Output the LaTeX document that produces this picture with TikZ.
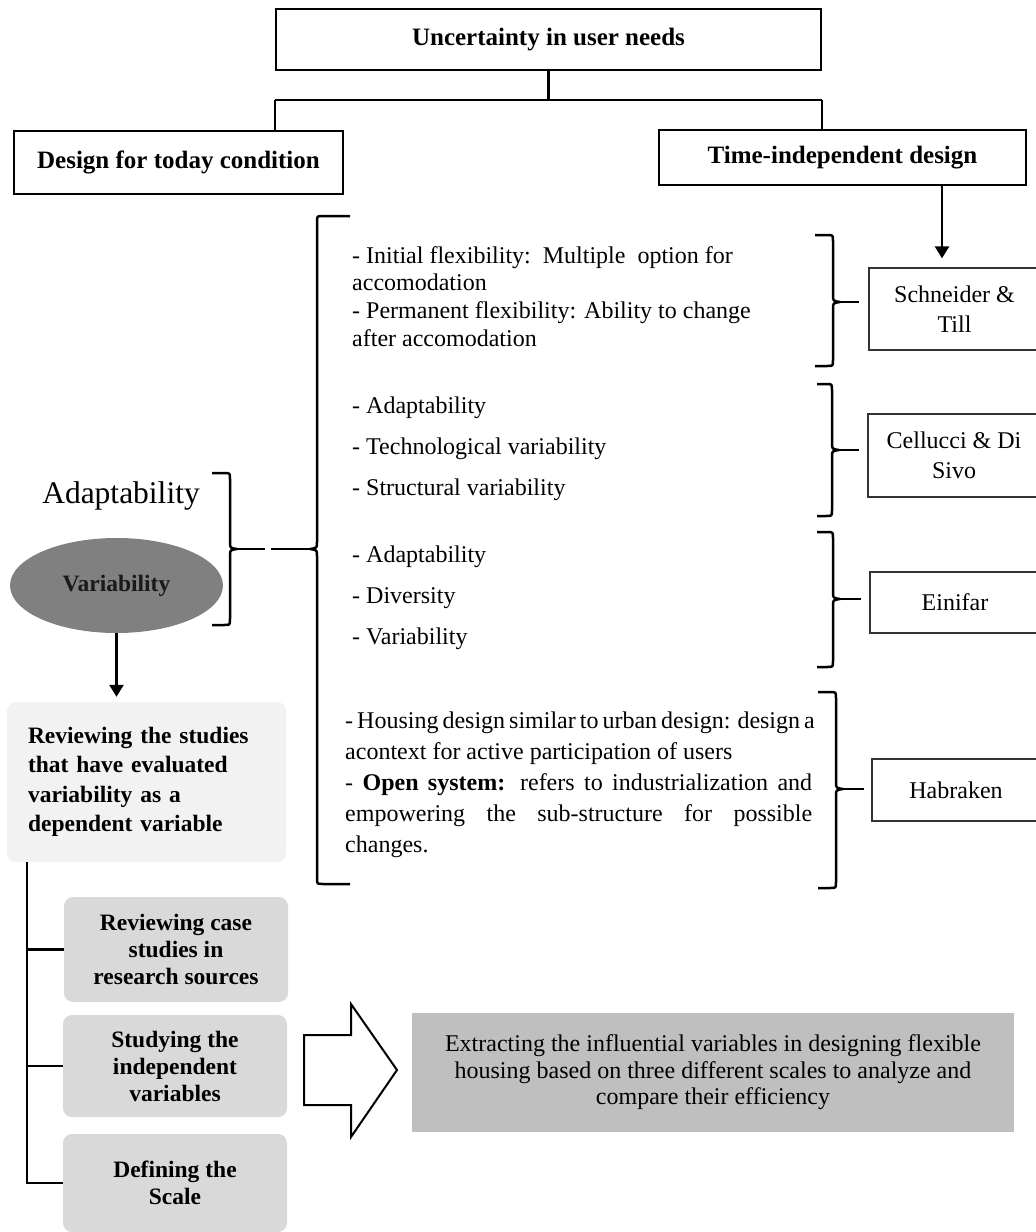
\documentclass[tikz,border=0pt]{standalone}
\usepackage{fontspec}
\setmainfont{Liberation Serif}
\usepackage{xcolor}
\usepackage{tikz}
\usetikzlibrary{arrows.meta, shapes.geometric, positioning}
\definecolor{lightpanel}{HTML}{F2F2F2}
\definecolor{midpanel}{HTML}{D9D9D9}
\definecolor{darkpanel}{HTML}{BFBFBF}
\definecolor{ovalgray}{HTML}{808080}

\begin{document}
\begin{tikzpicture}[x=1pt, y=-1pt,
				>={Triangle[length=12pt, width=14pt]},
				conn/.style={line width=2.5pt},
				brace/.style={line width=2.5pt, line join=round},
				headbox/.style={draw, line width=2.2pt, inner sep=0pt, font=\bfseries\fontsize{25}{30}\selectfont},
				namebox/.style={draw=black!80, line width=1.3pt, inner sep=0pt, align=center, font=\fontsize{24}{30}\selectfont},
				stepbox/.style={fill=midpanel, rounded corners=9pt, inner sep=0pt, align=center, font=\bfseries\fontsize{23.5}{27}\selectfont},
				listtext/.style={anchor=west, inner sep=0pt, align=left}]
				\useasboundingbox (0,0) rectangle (1036,1232);
				% top of the tree
				\node at (548.5,39.5) (needs) [headbox, minimum width=545pt, minimum height=61pt] {Uncertainty in user needs};
				\node at (178.5,162.5) (today) [headbox, minimum width=329pt, minimum height=63pt] {Design for today condition};
				\node at (842.5,157.5) (timeind) [headbox, minimum width=367pt, minimum height=55pt] {Time-independent design};
				\draw[conn] (needs.south) -- ++(0,29) coordinate (split);
				\draw[conn] (needs.west |- split) -- (needs.east |- split);
				\draw[conn] (needs.west |- split) -- (needs.west |- today.north);
				\draw[conn] (needs.east |- split) -- (needs.east |- timeind.north);
				% authors
				\node at (954.5,309) (schneider) [namebox, minimum width=171pt, minimum height=82pt] {Schneider \&\\Till};
				\node at (954,455.5) (cellucci) [namebox, minimum width=172pt, minimum height=83pt] {Cellucci \& Di\\Sivo};
				\node at (955,602.5) (einifar) [namebox, minimum width=170pt, minimum height=61pt] {Einifar};
				\node at (956,790) (habraken) [namebox, minimum width=168pt, minimum height=62pt] {Habraken};
				\draw[conn, ->, shorten >=9pt] ([xshift=99.5pt]timeind.south) -- ([xshift=99.5pt]timeind.south |- schneider.north);
				% definitions
				\node at (352,296.5) (schtext) [listtext, font=\fontsize{24}{27.7}\selectfont] {- Initial flexibility:\ \ Multiple\ \ option for\\accomodation\\- Permanent flexibility: Ability to change\\after accomodation};
				\node at (352,449) (celtext) [listtext, font=\fontsize{24}{41}\selectfont] {- Adaptability\\- Technological variability\\- Structural variability};
				\node at (352,597.5) (eintext) [listtext, font=\fontsize{24}{41}\selectfont] {- Adaptability\\- Diversity\\- Variability};
				\node at (345,784.5) (habtext) [anchor=west, inner sep=0pt, text width=467pt, align=justify, font=\fontsize{24}{31}\selectfont] {\makebox[\linewidth][s]{- Housing design similar to urban design: design a}\\acontext for active participation of users\\- \textbf{Open system:} refers to industrialization and\linebreak empowering the sub-structure for possible\linebreak changes.};
				% braces
				\draw[brace] (815,235) -- (827,235) .. controls (833,235) .. (833,241) -- (833,295) .. controls (833,301) .. (840,302) .. controls (833,303) .. (833,309) -- (833,360) .. controls (833,366) .. (827,366) -- (815,366);
				\draw[brace] (817,384) -- (826,384) .. controls (832,384) .. (832,390) -- (832,443) .. controls (832,449) .. (839,450) .. controls (832,451) .. (832,457) -- (832,510) .. controls (832,516) .. (826,516) -- (817,516);
				\draw[brace] (817,532) -- (827,532) .. controls (833,532) .. (833,538) -- (833,592) .. controls (833,598) .. (840,599) .. controls (833,600) .. (833,606) -- (833,661) .. controls (833,667) .. (827,667) -- (817,667);
				\draw[brace] (818,692) -- (830,692) .. controls (836,692) .. (836,698) -- (836,782) .. controls (836,788) .. (843,789) .. controls (836,790) .. (836,796) -- (836,882) .. controls (836,888) .. (830,888) -- (818,888);
				\coordinate (tip1) at (840,302);
				\coordinate (tip2) at (839,450);
				\coordinate (tip3) at (840,599);
				\coordinate (tip4) at (843,789);
				\draw[brace, shorten >=9pt] (tip1) -- (tip1 -| schneider.west);
				\draw[brace, shorten >=8pt] (tip2) -- (tip2 -| cellucci.west);
				\draw[brace, shorten >=8pt] (tip3) -- (tip3 -| einifar.west);
				\draw[brace, shorten >=7pt] (tip4) -- (tip4 -| habraken.west);
				% big brace and the small one
				\draw[brace] (350,216) -- (323,216) .. controls (317,216) .. (317,222) -- (317,542) .. controls (317,548) .. (310,549) .. controls (317,550) .. (317,556) -- (317,878) .. controls (317,884) .. (323,884) -- (350,884);
				\draw[brace] (212,473) -- (224,473) .. controls (230,473) .. (230,479) -- (230,542) .. controls (230,548) .. (237,549) .. controls (230,550) .. (230,556) -- (230,619) .. controls (230,625) .. (224,625) -- (212,625);
				\coordinate (bigtip) at (310,549);
				\coordinate (adtip) at (237,549);
				\coordinate (gap) at (268,549);
				\draw[brace] (adtip) -- ([xshift=-3pt]gap);
				\draw[brace] (bigtip) -- ([xshift=3pt]gap);
				% left column
				\node at (121,496) (adapt) [inner sep=0pt, font=\fontsize{31.5}{36}\selectfont] {Adaptability};
				\node at (116.5,585.5) (var) [ellipse, fill=ovalgray, inner sep=0pt, minimum width=213pt, minimum height=95pt, text=black!90, font=\bfseries\fontsize{23.5}{28}\selectfont] {Variability};
				\node at (146.5,782) (revstudies) [stepbox, fill=lightpanel, minimum width=279pt, minimum height=160pt, text width=237pt, inner xsep=21pt, align=left, font=\bfseries\fontsize{23.5}{29.5}\selectfont] {Reviewing the studies\\that have evaluated\\variability as a\\dependent variable};
				\draw[conn, ->, shorten >=5pt] (var.south) -- (var.south |- revstudies.north);
				\node at (176,949.5) (casestudy) [stepbox, minimum width=224pt, minimum height=105pt] {Reviewing case\\studies in\\research sources};
				\node at (175,1066) (studyvar) [stepbox, minimum width=224pt, minimum height=102pt] {Studying the\\independent\\variables};
				\node at (175,1183) (scalebox) [stepbox, minimum width=224pt, minimum height=98pt] {Defining the\\Scale};
				\coordinate (trunk) at ([xshift=20pt]revstudies.south west);
				\draw[conn] (trunk) |- (scalebox.west);
				\draw[conn] (casestudy.west) -- (casestudy.west -| trunk);
				\draw[conn] (studyvar.west) -- (studyvar.west -| trunk);
				% result
				\node at (713,1072.5) (extract) [fill=darkpanel, inner sep=0pt, minimum width=602pt, minimum height=119pt, align=center, font=\fontsize{24}{26.5}\selectfont] {Extracting the influential variables in designing flexible\\housing based on three different scales to analyze and\\compare their efficiency};
				\draw[line width=2pt, fill=white] (304,1035) -- (351,1035) -- (351,1004) -- (397,1070) -- (351,1137) -- (351,1105) -- (304,1105) -- cycle;
			\end{tikzpicture}
\end{document}
